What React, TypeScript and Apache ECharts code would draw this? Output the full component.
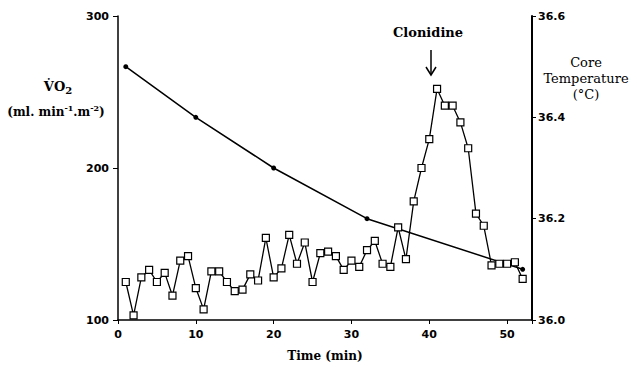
import React, { useEffect, useRef } from "react";
import * as echarts from "echarts";

const vo2Time = [1, 2, 3, 4, 5, 6, 7, 8, 9, 10, 11, 12, 13, 14, 15, 16, 17, 18, 19, 20, 21, 22, 23, 24, 25, 26, 27, 28, 29, 30, 31, 32, 33, 34, 35, 36, 37, 38, 39, 40, 41, 42, 43, 44, 45, 46, 47, 48, 49, 50, 51, 52];
const vo2Values = [125, 103, 128, 133, 125, 131, 116, 139, 142, 121, 107, 132, 132, 125, 119, 120, 130, 126, 154, 128, 134, 156, 137, 151, 125, 144, 145, 142, 133, 139, 135, 146, 152, 137, 135, 161, 140, 178, 200, 219, 252, 241, 241, 230, 213, 170, 162, 136, 137, 137, 138, 127];
const tempTime = [1, 10, 20, 32, 52];
const tempValues = [36.5, 36.4, 36.3, 36.2, 36.1];
const xTicks = [0, 10, 20, 30, 40, 50];
const vo2Ticks = [100, 200, 300];
const tempTicks = [36.0, 36.2, 36.4, 36.6];

const TICK_FONT = "DejaVu Sans";
const SERIF = "DejaVu Serif";

export default function App() {
  const ref = useRef<HTMLDivElement>(null);
  useEffect(() => {
    if (!ref.current) return;
    const chart = echarts.init(ref.current, null, { renderer: "svg" });
    chart.setOption({
      animation: false,
      backgroundColor: "#ffffff",
      grid: { left: 118, right: 105, top: 16, bottom: 44 },
      xAxis: {
        type: "value",
        min: xTicks[0],
        max: 53.2,
        interval: 10,
        name: "Time (min)",
        nameLocation: "middle",
        nameGap: 30,
        nameTextStyle: { fontFamily: SERIF, fontWeight: "bold", fontSize: 12, color: "#000" },
        axisLine: { show: true, lineStyle: { color: "#000", width: 1.5 } },
        axisTick: { show: true, length: 4, lineStyle: { color: "#000", width: 1 } },
        axisLabel: {
          color: "#000",
          fontFamily: TICK_FONT,
          fontWeight: "bold",
          fontSize: 11,
          margin: 9,
          formatter: (v: number) => (xTicks.includes(v) ? String(v) : ""),
        },
        splitLine: { show: false },
      },
      yAxis: [
        {
          type: "value",
          min: vo2Ticks[0],
          max: vo2Ticks[vo2Ticks.length - 1],
          interval: 100,
          position: "left",
          axisLine: { show: true, lineStyle: { color: "#000", width: 1.5 } },
          axisTick: { show: true, length: 5, lineStyle: { color: "#000", width: 1 } },
          axisLabel: { color: "#000", fontFamily: TICK_FONT, fontWeight: "bold", fontSize: 11, margin: 9 },
          splitLine: { show: false },
        },
        {
          type: "value",
          min: tempTicks[0],
          max: tempTicks[tempTicks.length - 1],
          interval: 0.2,
          position: "right",
          axisLine: { show: true, lineStyle: { color: "#000", width: 2 } },
          axisTick: { show: true, length: 4, lineStyle: { color: "#000", width: 1 } },
          axisLabel: {
            color: "#000",
            fontFamily: TICK_FONT,
            fontWeight: "bold",
            fontSize: 11,
            margin: 6,
            formatter: (v: number) => v.toFixed(1),
          },
          splitLine: { show: false },
        },
      ],
      series: [
        {
          type: "line",
          name: "Core Temperature",
          yAxisIndex: 1,
          data: tempTime.map((t, i) => [t, tempValues[i]]),
          symbol: "circle",
          symbolSize: 5,
          lineStyle: { color: "#000", width: 1.5 },
          itemStyle: { color: "#000" },
          z: 2,
        },
        {
          type: "line",
          name: "VO2",
          yAxisIndex: 0,
          data: vo2Time.map((t, i) => [t, vo2Values[i]]),
          symbol: "rect",
          symbolSize: 7,
          showAllSymbol: true,
          lineStyle: { color: "#000", width: 1.3 },
          itemStyle: { color: "#fff", borderColor: "#000", borderWidth: 1.2 },
          z: 3,
        },
      ],
      graphic: [
        {
          type: "text",
          x: 58,
          y: 86,
          style: {
            text: "{a|V\u0307O}{s|2}",
            align: "center",
            verticalAlign: "middle",
            rich: {
              a: { fontFamily: SERIF, fontWeight: "bold", fontSize: 13, fill: "#000" },
              s: { fontFamily: SERIF, fontWeight: "bold", fontSize: 10, fill: "#000", padding: [8, 0, 0, 0] },
            },
          },
        },
        {
          type: "text",
          x: 56,
          y: 112,
          style: {
            text: "{a|(ml. min}{u|-1}{a|.m}{u|-2}{a|)}",
            align: "center",
            verticalAlign: "middle",
            rich: {
              a: { fontFamily: SERIF, fontWeight: "bold", fontSize: 12, fill: "#000" },
              u: { fontFamily: SERIF, fontWeight: "bold", fontSize: 8, fill: "#000", padding: [0, 0, 8, 0] },
            },
          },
        },
        {
          type: "text",
          x: 586,
          y: 78,
          style: {
            text: "Core\nTemperature\n(°C)",
            align: "center",
            verticalAlign: "middle",
            lineHeight: 16,
            fontFamily: SERIF,
            fontSize: 13,
            fill: "#000",
          },
        },
        {
          type: "text",
          x: 428,
          y: 32,
          style: {
            text: "Clonidine",
            align: "center",
            verticalAlign: "middle",
            fontFamily: SERIF,
            fontWeight: "bold",
            fontSize: 13,
            fill: "#000",
          },
        },
        {
          type: "line",
          shape: { x1: 431, y1: 50, x2: 431, y2: 75 },
          style: { stroke: "#000", lineWidth: 1.5 },
        },
        {
          type: "polyline",
          shape: { points: [[426, 67], [431, 75], [436, 67]] },
          style: { stroke: "#000", lineWidth: 1.5, fill: "none" },
        },
      ],
    });
    return () => chart.dispose();
  }, []);
  return (
    <div
      ref={ref}
      style={{ position: "fixed", left: 0, top: 0, width: 637, height: 367, background: "#fff" }}
    />
  );
}
